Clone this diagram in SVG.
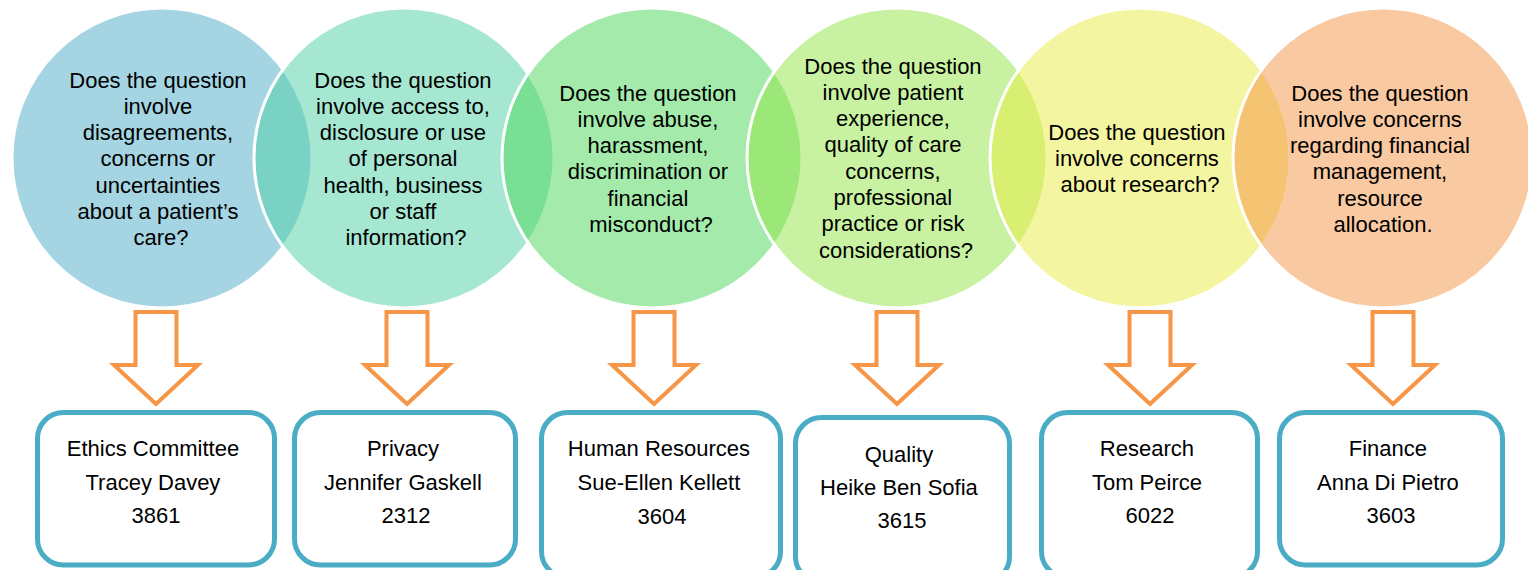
<svg xmlns="http://www.w3.org/2000/svg" width="1528" height="570" viewBox="0 0 1528 570">
  <style>
    .bubble { stroke: #ffffff; stroke-width: 3; fill-opacity: 0.5; }
    .q { font-family: "Liberation Sans", Arial, sans-serif; font-size: 22px; fill: #000000; text-anchor: middle; }
    .box { fill: #ffffff; stroke: #4BACC6; stroke-width: 5; }
    .arrow { fill: #ffffff; stroke: #F79646; stroke-width: 4; stroke-linejoin: miter; }
  </style>
  <defs>
    <!-- down block arrow, centred on x=0 -->
    <path id="downArrow" class="arrow" d="M -20.5 312 H 20.5 V 365 H 42 L 0 404 L -42 365 H -20.5 Z"/>
  </defs>

  <!-- question bubbles -->
  <g id="q-ethics">
    <circle class="bubble" cx="162" cy="158" r="150" fill="#4BABC5"/>
    <text class="q" x="161" y="87.5">
      <tspan x="161">Does the question</tspan>
      <tspan x="161" dy="26.3">involve</tspan>
      <tspan x="161" dy="26.3">disagreements,</tspan>
      <tspan x="161" dy="26.3">concerns or</tspan>
      <tspan x="161" dy="26.3">uncertainties</tspan>
      <tspan x="161" dy="26.3">about a patient’s</tspan>
      <tspan x="161" dy="26.3">care?</tspan>
    </text>
  </g>
  <g id="q-privacy">
    <circle class="bubble" cx="404" cy="158" r="150" fill="#4DCFA5"/>
    <text class="q" x="406" y="87.5">
      <tspan x="406">Does the question</tspan>
      <tspan x="406" dy="26.3">involve access to,</tspan>
      <tspan x="406" dy="26.3">disclosure or use</tspan>
      <tspan x="406" dy="26.3">of personal</tspan>
      <tspan x="406" dy="26.3">health, business</tspan>
      <tspan x="406" dy="26.3">or staff</tspan>
      <tspan x="406" dy="26.3">information?</tspan>
    </text>
  </g>
  <g id="q-hr">
    <circle class="bubble" cx="652" cy="158" r="150" fill="#49D757"/>
    <text class="q" x="651" y="100.5">
      <tspan x="651">Does the question</tspan>
      <tspan x="651" dy="26.3">involve abuse,</tspan>
      <tspan x="651" dy="26.3">harassment,</tspan>
      <tspan x="651" dy="26.3">discrimination or</tspan>
      <tspan x="651" dy="26.3">financial</tspan>
      <tspan x="651" dy="26.3">misconduct?</tspan>
    </text>
  </g>
  <g id="q-quality">
    <circle class="bubble" cx="897" cy="158" r="150" fill="#91E545"/>
    <text class="q" x="896" y="73.5">
      <tspan x="896">Does the question</tspan>
      <tspan x="896" dy="26.3">involve patient</tspan>
      <tspan x="896" dy="26.3">experience,</tspan>
      <tspan x="896" dy="26.3">quality of care</tspan>
      <tspan x="896" dy="26.3">concerns,</tspan>
      <tspan x="896" dy="26.3">professional</tspan>
      <tspan x="896" dy="26.3">practice or risk</tspan>
      <tspan x="896" dy="26.3">considerations?</tspan>
    </text>
  </g>
  <g id="q-research">
    <circle class="bubble" cx="1140" cy="158" r="150" fill="#E9EB41"/>
    <text class="q" x="1140" y="139.5">
      <tspan x="1140">Does the question</tspan>
      <tspan x="1140" dy="26.3">involve concerns</tspan>
      <tspan x="1140" dy="26.3">about research?</tspan>
    </text>
  </g>
  <g id="q-finance">
    <circle class="bubble" cx="1383" cy="158" r="150" fill="#F39343"/>
    <text class="q" x="1383" y="100.5">
      <tspan x="1383">Does the question</tspan>
      <tspan x="1383" dy="26.3">involve concerns</tspan>
      <tspan x="1383" dy="26.3">regarding financial</tspan>
      <tspan x="1383" dy="26.3">management,</tspan>
      <tspan x="1383" dy="26.3">resource</tspan>
      <tspan x="1383" dy="26.3">allocation.</tspan>
    </text>
  </g>

  <!-- connectors: block arrows from each question to its contact -->
  <g id="connectors">
    <use href="#downArrow" x="156"/>
    <use href="#downArrow" x="407"/>
    <use href="#downArrow" x="654"/>
    <use href="#downArrow" x="897"/>
    <use href="#downArrow" x="1150"/>
    <use href="#downArrow" x="1393"/>
  </g>

  <!-- contact boxes -->
  <g id="c-ethics">
    <rect class="box" x="37.5" y="412.5" width="237" height="152.5" rx="26"/>
    <text class="q" x="156" y="456">
      <tspan x="156">Ethics Committee</tspan>
      <tspan x="156" dy="33.5">Tracey Davey</tspan>
      <tspan x="156" dy="33.5">3861</tspan>
    </text>
  </g>
  <g id="c-privacy">
    <rect class="box" x="294.5" y="412.5" width="221" height="152.5" rx="26"/>
    <text class="q" x="406" y="456">
      <tspan x="406">Privacy</tspan>
      <tspan x="406" dy="33.5">Jennifer Gaskell</tspan>
      <tspan x="406" dy="33.5">2312</tspan>
    </text>
  </g>
  <g id="c-hr">
    <rect class="box" x="541.5" y="412.5" width="239" height="165" rx="26"/>
    <text class="q" x="662" y="456">
      <tspan x="662">Human Resources</tspan>
      <tspan x="662" dy="34">Sue-Ellen Kellett</tspan>
      <tspan x="662" dy="34">3604</tspan>
    </text>
  </g>
  <g id="c-quality">
    <rect class="box" x="795.5" y="417.5" width="214" height="165" rx="26"/>
    <text class="q" x="902" y="461.5">
      <tspan x="902">Quality</tspan>
      <tspan x="902" dy="33">Heike Ben Sofia</tspan>
      <tspan x="902" dy="33.5">3615</tspan>
    </text>
  </g>
  <g id="c-research">
    <rect class="box" x="1041.5" y="412.5" width="216" height="165" rx="26"/>
    <text class="q" x="1150" y="456">
      <tspan x="1150">Research</tspan>
      <tspan x="1150" dy="33.5">Tom Peirce</tspan>
      <tspan x="1150" dy="33.5">6022</tspan>
    </text>
  </g>
  <g id="c-finance">
    <rect class="box" x="1279.5" y="412.5" width="223" height="152.5" rx="26"/>
    <text class="q" x="1391" y="456">
      <tspan x="1391">Finance</tspan>
      <tspan x="1391" dy="33.5">Anna Di Pietro</tspan>
      <tspan x="1391" dy="33.5">3603</tspan>
    </text>
  </g>
</svg>
